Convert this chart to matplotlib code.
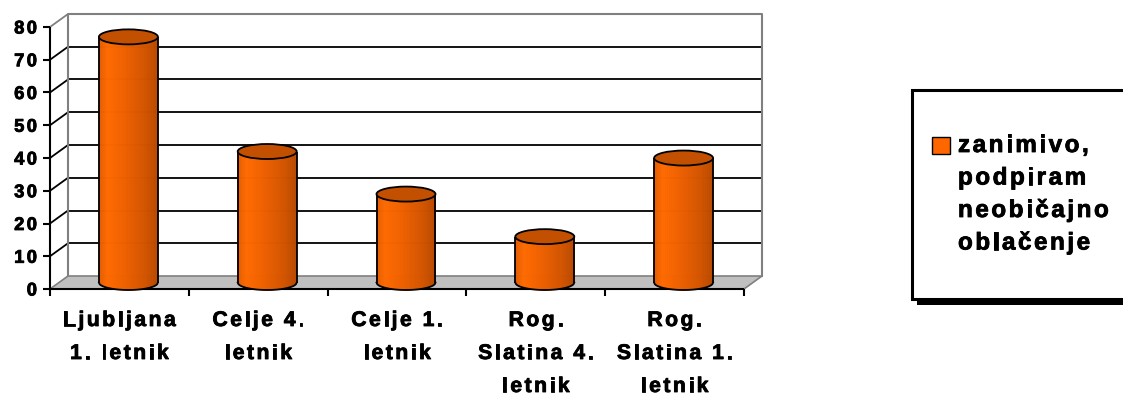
import numpy as np
import matplotlib
matplotlib.use("Agg")
import matplotlib.pyplot as plt
from matplotlib.patches import Polygon, Ellipse, Rectangle
from matplotlib.lines import Line2D
from matplotlib.transforms import IdentityTransform
from matplotlib.colors import LinearSegmentedColormap
from matplotlib.font_manager import FontProperties, findfont, get_font
import matplotlib.patheffects as pe

# ---- data ----
categories = ["Ljubljana\n1. letnik", "Celje 4.\nletnik", "Celje 1.\nletnik",
              "Rog.\nSlatina 4.\nletnik", "Rog.\nSlatina 1.\nletnik"]
values = [75, 40, 27, 14, 38]
yticks = [0, 10, 20, 30, 40, 50, 60, 70, 80]
series_label = ["zanimivo,", "podpiram", "neobičajno", "oblačenje"]

W, H, DPI = 1123, 394, 100
DX, DY = 18.0, 13.0          # depth offset of the back wall (pixels)
BAR_W = 0.425                # cylinder width in category units
ELL_B = 7.5                  # vertical semi-axis of the cylinder ellipses (pixels)
FAMILY = "Liberation Sans"
HEAVY = [pe.withStroke(linewidth=0.6, foreground="black")]

fig = plt.figure(figsize=(W / DPI, H / DPI), dpi=DPI)
fig.patch.set_facecolor("white")
ax = fig.add_axes([50 / W, (H - 289) / H, 694 / W, 262 / H])
ax.set_xlim(0, len(values))
ax.set_ylim(0, 80)
ax.axis("off")
ID = IdentityTransform()


def P(x, v, d=0.0):
    """Display position of data point (x, v) pushed back by depth fraction d."""
    px, py = ax.transData.transform((x, v))
    return px + DX * d, py + DY * d


def line(p0, p1, color="black", lw=1.2, z=2):
    ax.add_line(Line2D([p0[0], p1[0]], [p0[1], p1[1]], color=color, lw=lw,
                       transform=ID, clip_on=False, zorder=z,
                       solid_capstyle="butt"))


def spaced_text(x, y, s, size, spacing, ha="left"):
    """Bold text with extra tracking between letters; (x, y) is the baseline anchor."""
    prop = FontProperties(family=FAMILY, weight="bold", size=size)
    font = get_font(findfont(prop))
    font.set_size(size, DPI)
    adv = [font.load_char(ord(c)).linearHoriAdvance / 65536 for c in s]
    total = sum(adv) + spacing * (len(s) - 1)
    if ha == "center":
        x -= total / 2
    elif ha == "right":
        x -= total
    for c, a in zip(s, adv):
        if c != " ":
            fig.text(x / W, y / H, c, fontproperties=prop, ha="left",
                     va="baseline", color="black", path_effects=HEAVY)
        x += a + spacing


n = len(values)
grey = "#808080"

# back wall
wall = [P(0, 0, 1), P(0, 80, 1), P(n, 80, 1), P(n, 0, 1)]
ax.add_patch(Polygon(wall, closed=True, fc="white", ec="none",
                     transform=ID, clip_on=False, zorder=1))
for v in yticks[1:-1]:
    line(P(0, v, 1), P(n, v, 1), "black", 1.3)
    line(P(0, v, 0), P(0, v, 1), "black", 1.3)
line(P(0, 80, 0), P(0, 80, 1), grey, 1.3)
ax.add_line(Line2D([p[0] for p in wall], [p[1] for p in wall], color=grey,
                   lw=1.5, transform=ID, clip_on=False, zorder=2))

# floor
floor = [P(0, 0, 0), P(n, 0, 0), P(n, 0, 1), P(0, 0, 1)]
ax.add_patch(Polygon(floor, closed=True, fc="#C0C0C0", ec=grey, lw=1.2,
                     transform=ID, clip_on=False, zorder=3))

# front axes and ticks
line(P(0, 0, 0), P(0, 80, 0), "black", 1.5, 4)
line(P(0, 0, 0), P(n, 0, 0), "black", 1.5, 4)
for k in range(n + 1):
    x0, y0 = P(k, 0, 0)
    line((x0, y0), (x0, y0 - 7), "black", 1.5, 4)
for v in yticks:
    x0, y0 = P(0, v, 0)
    line((x0 - 7, y0), (x0, y0), "black", 1.5, 4)
    spaced_text(37, y0 - 6.5, str(v), 13.2, 2.4, ha="right")

# cylinders
body_cmap = LinearSegmentedColormap.from_list(
    "cyl", [(0.0, "#E25C00"), (0.15, "#FF6A00"), (0.45, "#EE6000"),
            (0.8, "#D25400"), (1.0, "#B84900")])
NS = 90
for i, val in enumerate(values):
    cx, yb = P(i + 0.5, 0, 0.5)
    _, yt = P(i + 0.5, val, 0.5)
    a = (P(BAR_W, 0)[0] - P(0, 0)[0]) / 2
    xs = np.linspace(cx - a, cx + a, NS + 1)
    sag = ELL_B * np.sqrt(np.clip(1 - ((xs - cx) / a) ** 2, 0, 1))
    for j in range(NS):
        col = body_cmap((j + 0.5) / NS)
        strip = [(xs[j], yb - sag[j]), (xs[j + 1], yb - sag[j + 1]),
                 (xs[j + 1], yt - sag[j + 1]), (xs[j], yt - sag[j])]
        ax.add_patch(Polygon(strip, closed=True, fc=col, ec=col, lw=0.4,
                             transform=ID, clip_on=False, zorder=5))
    ax.add_line(Line2D(xs, yb - sag, color="black", lw=1.3, transform=ID,
                       clip_on=False, zorder=6))
    line((cx - a, yb), (cx - a, yt), "black", 1.3, 6)
    line((cx + a, yb), (cx + a, yt), "black", 1.3, 6)
    ax.add_patch(Ellipse((cx, yt), 2 * a, 2 * ELL_B, fc="#C25000", ec="black",
                         lw=1.3, transform=ID, clip_on=False, zorder=7))

# category labels
for i, lab in enumerate(categories):
    cx = P(i + 0.5, 0, 0)[0]
    for k, part in enumerate(lab.split("\n")):
        spaced_text(cx, H - (326 + 33 * k), part, 15.2, 2.5, ha="center")

# legend
ax.add_patch(Rectangle((917, H - 305), 260, 210, fc="black", ec="none",
                       transform=ID, clip_on=False, zorder=8))
ax.add_patch(Rectangle((911.5, H - 298.5), 260, 209, fc="white", ec="black",
                       lw=2.2, transform=ID, clip_on=False, zorder=9))
ax.add_patch(Rectangle((932, H - 154), 18, 17, fc="#FF6600", ec="black",
                       lw=1.0, transform=ID, clip_on=False, zorder=10))
for k, part in enumerate(series_label):
    spaced_text(958, H - (152 + 32.5 * k), part, 17.4, 2.6)

fig.savefig("out.png", dpi=DPI, facecolor="white")
